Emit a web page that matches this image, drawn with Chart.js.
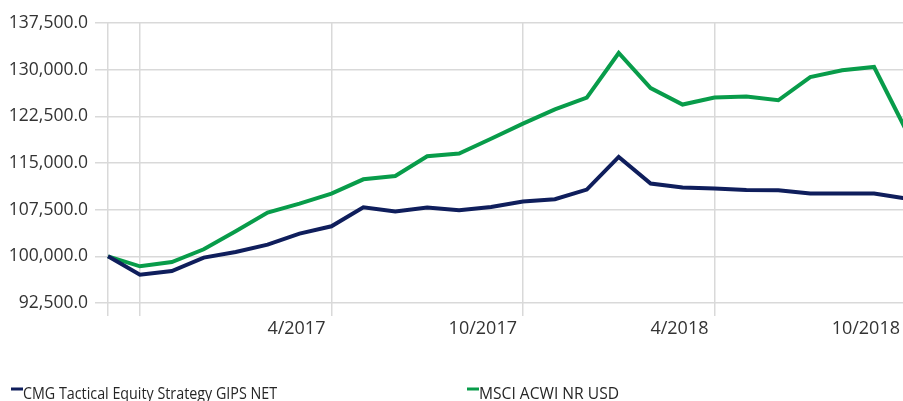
<!DOCTYPE html>
<html>
<head>
<meta charset="utf-8">
<script src="https://cdn.jsdelivr.net/npm/chart.js@4.4.1/dist/chart.umd.min.js"></script>
<style>
  html, body { margin: 0; padding: 0; overflow: hidden; background: #fff; }
  canvas { display: block; }
</style>
</head>
<body>
<canvas id="chart" width="908" height="401"></canvas>
<script>
// monthly points, 9/2016 .. 10/2018
const months = [
  '9/2016', '10/2016', '11/2016', '12/2016',
  '1/2017', '2/2017', '3/2017', '4/2017', '5/2017', '6/2017', '7/2017', '8/2017', '9/2017', '10/2017', '11/2017', '12/2017',
  '1/2018', '2/2018', '3/2018', '4/2018', '5/2018', '6/2018', '7/2018', '8/2018', '9/2018', '10/2018'
];
const tickLabels = ['4/2017', '10/2017', '4/2018', '10/2018'];
const gridOnlyTicks = ['9/2016', '10/2016'];

const cmgNet = [100000, 97060, 97640, 99790, 100700, 101880, 103650, 104830, 107880, 107190, 107830, 107400, 107930,
  108800, 109170, 110730, 115970, 111690, 111050, 110890, 110660, 110610, 110080, 110080, 110080, 109300];
const msciAcwi = [100000, 98400, 99090, 101130, 104020, 107030, 108480, 110080, 112380, 112910, 116080, 116510, 118890,
  121330, 123630, 125510, 132680, 127050, 124390, 125510, 125670, 125080, 128820, 129900, 130430, 120300];

const yMin = 92500;
const yMax = 137500;
const yStep = 7500;

const gridColor = '#d9d9d9';
const textColor = '#333333';

// legend drawn under the plot, items at fixed spots like the original
const bottomLegend = {
  id: 'bottomLegend',
  afterDraw(chart) {
    const ctx = chart.ctx;
    const xs = [11, 467];
    const maxW = [254, 140]; // squeeze to the narrow look of the original font
    ctx.save();
    ctx.font = '16px "Open Sans"';
    ctx.textBaseline = 'alphabetic';
    chart.data.datasets.forEach((ds, i) => {
      ctx.fillStyle = ds.borderColor;
      ctx.fillRect(xs[i], 387.5, 12, 3);
      ctx.fillStyle = '#262626';
      ctx.fillText(ds.label, xs[i] + 12, 399, maxW[i]);
    });
    ctx.restore();
  }
};

new Chart(document.getElementById('chart'), {
  type: 'line',
  data: {
    labels: months,
    datasets: [
      { label: 'CMG Tactical Equity Strategy GIPS NET', data: cmgNet, borderColor: '#0f1e5c' },
      { label: 'MSCI ACWI NR USD', data: msciAcwi, borderColor: '#089c4a' }
    ]
  },
  options: {
    responsive: false,
    animation: false,
    layout: { padding: { top: 23, right: 0, bottom: 0, left: 0 } },
    elements: {
      point: { radius: 0 },
      line: { tension: 0, borderWidth: 4, fill: false }
    },
    plugins: {
      legend: { display: false },
      tooltip: { enabled: false }
    },
    scales: {
      x: {
        grid: { color: gridColor, lineWidth: 1.5, tickLength: 13 },
        border: { display: false },
        ticks: {
          autoSkip: false,
          maxRotation: 0,
          align: 'end',
          labelOffset: -6,
          padding: 2,
          color: textColor,
          font: { family: 'Open Sans', size: 18 },
          callback(v, i) {
            const m = months[i];
            if (tickLabels.includes(m)) return m;
            if (gridOnlyTicks.includes(m)) return '';
            return null;
          }
        },
        afterFit(s) { s.height = 98; }
      },
      y: {
        min: yMin,
        max: yMax,
        grid: { color: gridColor, lineWidth: 1.5, tickLength: 13 },
        border: { display: false },
        ticks: {
          stepSize: yStep,
          padding: 7,
          color: textColor,
          font: { family: 'Open Sans', size: 17.5 },
          callback: v => v.toLocaleString('en-US', { minimumFractionDigits: 1, maximumFractionDigits: 1 })
        },
        afterFit(s) { s.width = 108; }
      }
    }
  },
  plugins: [bottomLegend]
});
</script>
</body>
</html>
